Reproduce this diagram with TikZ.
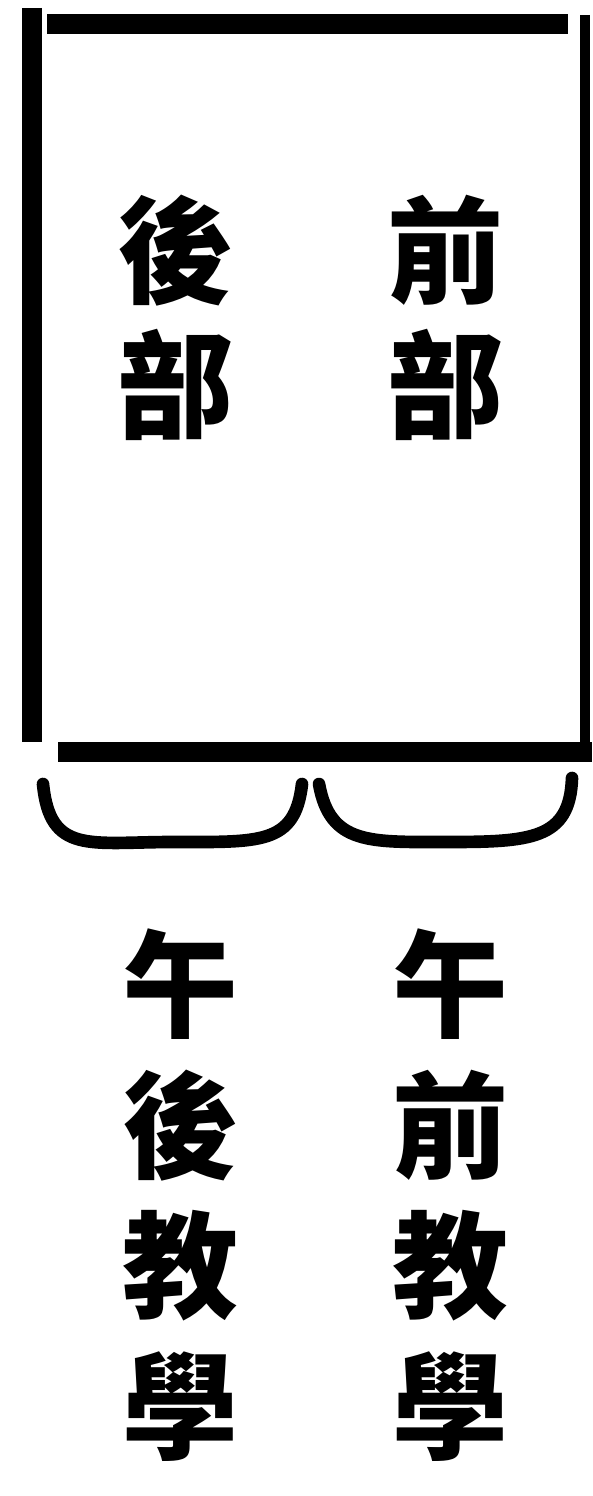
\documentclass[tikz,border=0pt]{standalone}
\usepackage{fontspec}
\usepackage{tikz}
\newfontfamily\cjk{Noto Sans CJK TC}
\usetikzlibrary{positioning}

\begin{document}
\begin{tikzpicture}[
          col/.style={align=center,inner sep=0pt,
                      font=\cjk\bfseries\fontsize{33pt}{38.5pt}\selectfont},
          colb/.style={col,font=\cjk\bfseries\fontsize{33pt}{40pt}\selectfont},
          rule/.style={line width=5.6pt},
          brace/.style={line width=3.6pt,line cap=round}]
        \useasboundingbox (0,0) rectangle (5.92,-14.96);
        % frame
        \draw[rule] (0.32,-0.08) -- (0.32,-7.42);
        \draw[rule] (0.47,-0.24) -- (5.68,-0.24);
        \draw[line width=2.6pt] (5.85,-0.15) -- (5.85,-7.50);
        \draw[rule] (0.58,-7.52) -- (5.92,-7.52);
        % labels inside
        \node[col](rear)  at (1.75,-3.18) {後\\部};
        \node[col](front) at (4.45,-3.18) {前\\部};
        % braces
        \coordinate (l1) at (0.43,-7.84);
        \coordinate (l2) at (3.02,-7.84);
        \coordinate (r1) at (3.19,-7.84);
        \coordinate (r2) at (5.72,-7.78);
        \draw[brace] (l1) .. controls (0.50,-8.55) and (0.90,-8.42) .. (1.73,-8.42)
                          .. controls (2.60,-8.42) and (2.95,-8.45) .. (l2);
        \draw[brace] (r1) .. controls (3.30,-8.45) and (3.70,-8.42) .. (4.46,-8.42)
                          .. controls (5.30,-8.42) and (5.70,-8.40) .. (r2);
        % labels below
        \node[colb](pm) at (1.80,-11.95) {午\\後\\教\\學};
        \node[colb](am) at (4.50,-11.95) {午\\前\\教\\學};
      \end{tikzpicture}
\end{document}
